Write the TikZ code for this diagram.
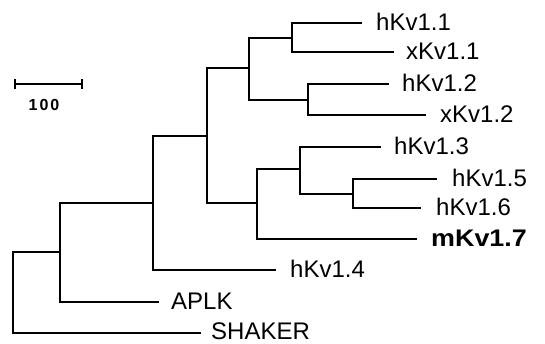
\documentclass[tikz,border=0pt]{standalone}
\usepackage{fontspec}
\setmainfont{Liberation Sans}
\begin{document}
\begin{tikzpicture}[x=1pt,y=-1pt,
  branch/.style={line width=2pt,line join=miter,line cap=rect},
  lab/.style={anchor=west,inner sep=0pt,font=\fontsize{24}{28}\selectfont},
  scalelab/.style={inner sep=0pt,font=\fontsize{16}{19}\selectfont\bfseries}]
\useasboundingbox (0,0) rectangle (545,344);
% leaf tips
\coordinate (e1) at (361,23);
\coordinate (e2) at (393,52);
\coordinate (e3) at (388,84);
\coordinate (e4) at (425,115);
\coordinate (e5) at (380,147);
\coordinate (e6) at (436,179);
\coordinate (e7) at (420,208);
\coordinate (e8) at (416,239);
\coordinate (e9) at (275,270);
\coordinate (e10) at (158,302);
\coordinate (e11) at (200,333);
% labels
\node[lab] (t1) at (376,22) {hKv1.1};
\node[lab] (t2) at (406,51) {xKv1.1};
\node[lab] (t3) at (402,83) {hKv1.2};
\node[lab] (t4) at (440,114) {xKv1.2};
\node[lab] (t5) at (394,146) {hKv1.3};
\node[lab] (t6) at (452,178) {hKv1.5};
\node[lab] (t7) at (436,207) {hKv1.6};
\node[lab,font=\fontsize{24}{28}\selectfont\bfseries\addfontfeature{FakeStretch=1.12}] (t8) at (431,238) {mKv1.7};
\node[lab] (t9) at (290,269) {hKv1.4};
\node[lab] (t10) at (171,301) {APLK};
\node[lab] (t11) at (211,331) {SHAKER};
% internal nodes
\coordinate (A) at (292,38);
\coordinate (B) at (308,100);
\coordinate (C) at (249,68);
\coordinate (D) at (353,194);
\coordinate (E) at (300,169);
\coordinate (F) at (257,203);
\coordinate (G) at (207,136);
\coordinate (H) at (153,203);
\coordinate (I) at (60,252);
\coordinate (R) at (13,292);
% branches
\draw[branch] (A) |- (e1);
\draw[branch] (A) |- (e2);
\draw[branch] (B) |- (e3);
\draw[branch] (B) |- (e4);
\draw[branch] (C) |- (A);
\draw[branch] (C) |- (B);
\draw[branch] (D) |- (e6);
\draw[branch] (D) |- (e7);
\draw[branch] (E) |- (e5);
\draw[branch] (E) |- (D);
\draw[branch] (F) |- (E);
\draw[branch] (F) |- (e8);
\draw[branch] (G) |- (C);
\draw[branch] (G) |- (F);
\draw[branch] (H) |- (G);
\draw[branch] (H) |- (e9);
\draw[branch] (I) |- (H);
\draw[branch] (I) |- (e10);
\draw[branch] (R) |- (I);
\draw[branch] (R) |- (e11);
% scale bar
\coordinate (s1) at (15,84);
\coordinate (s2) at (82,84);
\draw[line width=2pt] (s1) -- (s2);
\draw[line width=1.5pt] ([yshift=-5pt]s1) -- ([yshift=5pt]s1);
\draw[line width=1.5pt] ([yshift=-5pt]s2) -- ([yshift=5pt]s2);
\node[scalelab] (sl) at (44,105) {1\kern2pt0\kern2pt0};
\end{tikzpicture}
\end{document}
